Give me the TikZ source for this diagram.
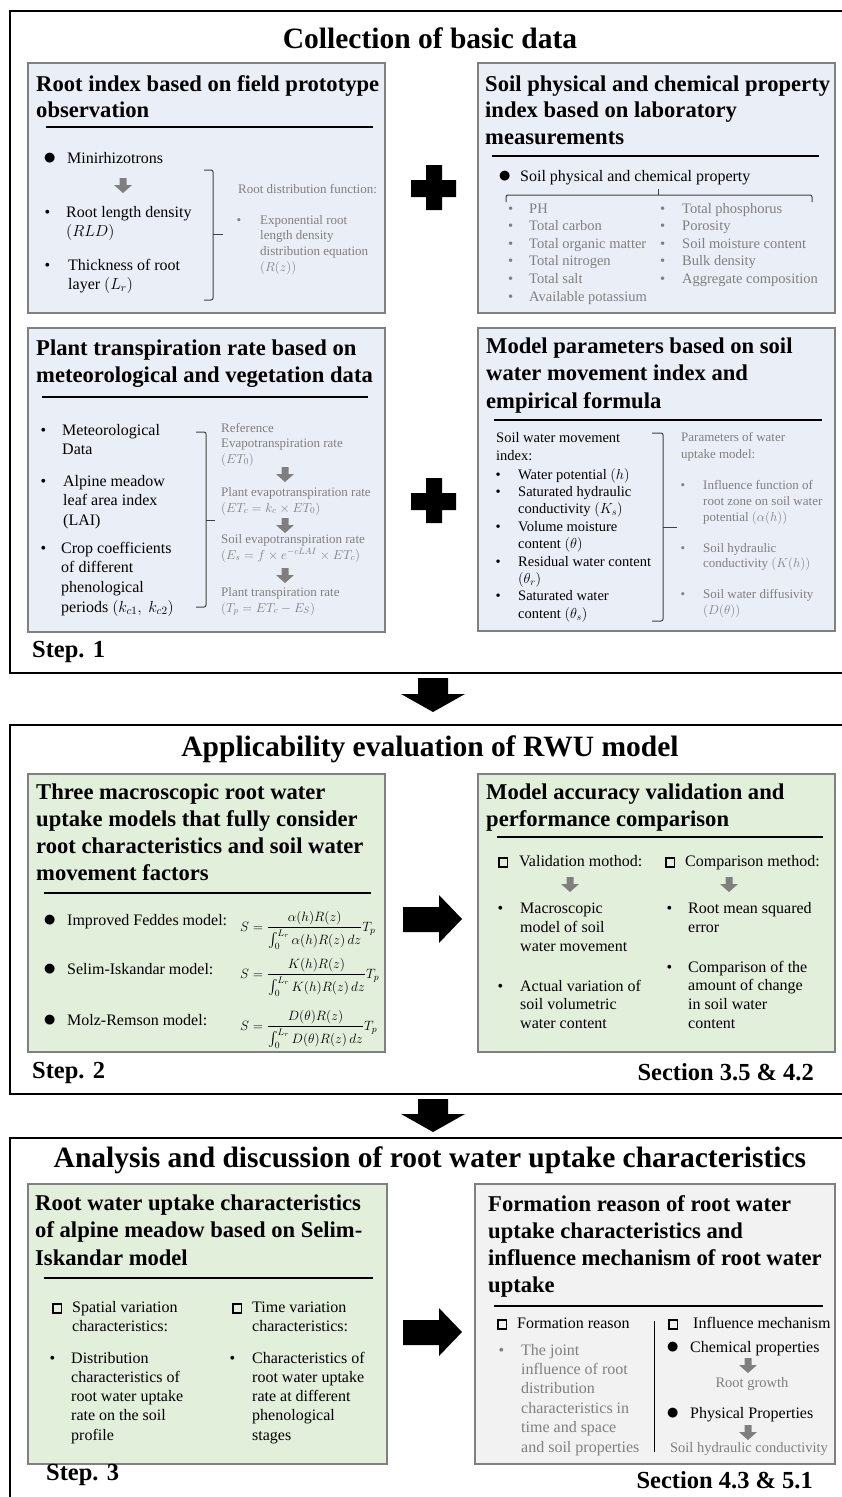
\RequirePackage{fix-cm}
\documentclass[tikz,border=0pt]{standalone}
\usepackage{amsmath}
\usepackage{fontspec}
\setmainfont{Liberation Serif}
\definecolor{bluefill}{HTML}{EAEFF7}
\definecolor{greenfill}{HTML}{E2EFDA}
\definecolor{greyfill}{HTML}{F2F2F2}
\definecolor{boxline}{HTML}{808080}
\definecolor{greytxt}{HTML}{7F7F7F}
\definecolor{garrowc}{HTML}{7F7F7F}
\definecolor{bracec}{HTML}{404040}
\newcommand{\smb}[1]{\llap{\textbullet\hspace{#1pt}}}
\newcommand{\bigb}[1]{\llap{\raisebox{-1pt}{\scalebox{1.6}{$\bullet$}}\hspace{#1pt}}}
\newcommand{\sqb}[1]{\llap{{\setlength{\fboxsep}{0pt}\setlength{\fboxrule}{1.7pt}\fbox{\rule{0pt}{7pt}\rule{7pt}{0pt}}}\hspace{#1pt}}}
\newcommand{\mlines}[6]{\foreach \mytext [count=\ii] in {#6}{\node[#2] (#1\ii) at (#3,{#4+(\ii-1)*(#5)}) {\mytext};}}
\newcommand{\garrow}[3]{\fill[garrowc] ({#2-3.5},#3) rectangle ({#2+3.5},{#3+7}) ({#2-9},{#3+7}) -- ({#2+9},{#3+7}) -- (#2,{#3+15}) -- cycle; \coordinate (#1) at (#2,#3);}
\tikzset{
 secbox/.style={draw=black, line width=2.5pt},
 bbox/.style={draw=boxline, line width=2pt, fill=bluefill, anchor=north west, inner sep=0pt},
 gbox/.style={draw=boxline, line width=2pt, fill=greenfill, anchor=north west, inner sep=0pt},
 ybox/.style={draw=boxline, line width=2pt, fill=greyfill, anchor=north west, inner sep=0pt},
 sectitle/.style={font=\fontsize{29.5}{34}\selectfont\bfseries, anchor=base, inner sep=0pt},
 boxtitle/.style={font=\fontsize{22.6}{27}\selectfont\bfseries, anchor=base west, inner sep=0pt},
 body/.style={font=\fontsize{16}{19}\selectfont, anchor=base west, inner sep=0pt},
 bodys/.style={font=\fontsize{14.5}{17}\selectfont, anchor=base west, inner sep=0pt},
 grey/.style={font=\fontsize{13}{16}\selectfont, text=greytxt, anchor=base west, inner sep=0pt},
 greyl/.style={font=\fontsize{14.5}{17}\selectfont, text=greytxt, anchor=base west, inner sep=0pt},
 greyb/.style={font=\fontsize{16}{19}\selectfont, text=greytxt, anchor=base west, inner sep=0pt},
 fml/.style={font=\fontsize{13.5}{16}\selectfont, anchor=base west, inner sep=0pt},
 steplab/.style={font=\fontsize{24.5}{28}\selectfont\bfseries, inner sep=0pt},
 rulel/.style={line width=1.5pt},
 brk/.style={draw=bracec, line width=1pt, rounded corners=2pt},
}
\begin{document}
\begin{tikzpicture}[x=1pt,y=-1pt]
\useasboundingbox (0,0) rectangle (842,1497);
\fill[white] (0,0) rectangle (842,1497);
\clip (0,0) rectangle (842,1497);

% ================= Section 1
\draw[secbox] (10,11) rectangle (852,673);
\node[sectitle] (t1) at (430,48) {Collection of basic data};

% Box A
\node[bbox, minimum width=357pt, minimum height=250pt] (A) at (27,62) {};
\mlines{at}{boxtitle}{36}{91}{26.5}{Root index based on field prototype, observation}
\draw[rulel] (46,127) -- (373,127);
\node[body] (a1) at (67,163) {\bigb{11}Minirhizotrons};
\garrow{aa1}{123}{178}
\mlines{ab}{body}{66}{217}{19.5}{\smb{16}Root length density, $(RLD)$}
\mlines{ac}{body}{68}{270}{19.5}{\smb{18}Thickness of root, layer $(L_r)$}
\draw[brk] (204,170) -- (213,170) -- (213,300) -- (204,300);
\draw[brk] (213,234) -- (223,234);
\node[grey] (ad) at (238,193) {Root distribution function:};
\mlines{ae}{grey}{260}{224}{15.7}{\smb{19}Exponential root, length density, distribution equation, $(R(z))$}

% plus 1
\fill (426,165) rectangle (442,210) (411,180) rectangle (456,197);

% Box B
\node[bbox, minimum width=357pt, minimum height=250pt] (B) at (477,62) {};
\mlines{bt}{boxtitle}{485}{91}{26.8}{Soil physical and chemical property, index based on laboratory, measurements}
\draw[rulel] (492,156) -- (819,156);
\node[body] (b1) at (520,181) {\bigb{9}Soil physical and chemical property};
\draw[brk] (506,202) -- (506,195) -- (812,195) -- (812,202);
\draw[brk] (658,195) -- (658,189);
\mlines{bl}{greyl}{529}{213}{17.6}{\smb{16}PH, \smb{16}Total carbon, \smb{16}Total organic matter, \smb{16}Total nitrogen, \smb{16}Total salt, \smb{16}Available potassium}
\mlines{br}{greyl}{682}{213}{17.6}{\smb{17}Total phosphorus, \smb{17}Porosity, \smb{17}Soil moisture content, \smb{17}Bulk density, \smb{17}Aggregate composition}

% Box C
\node[bbox, minimum width=357pt, minimum height=304pt] (C) at (27,327) {};
\mlines{ct}{boxtitle}{36}{355}{27}{Plant transpiration rate based on, meteorological and vegetation data}
\draw[rulel] (42,397) -- (368,397);
\mlines{ca}{body}{62}{435}{19.7}{\smb{16}Meteorological, Data}
\mlines{cb}{body}{63}{486}{19.7}{\smb{17}Alpine meadow, leaf area index, (LAI)}
\mlines{cc}{body}{61}{553}{19.7}{\smb{15}Crop coefficients, of different, phenological, {periods $(k_{c1},\ k_{c2})$}}
\draw[brk] (196,432) -- (206,432) -- (206,607) -- (196,607);
\draw[brk] (206,520) -- (215,520);
\mlines{cd}{grey}{221}{432}{15.5}{Reference, Evapotranspiration rate, $(ET_0)$}
\garrow{ca1}{285}{467}
\mlines{ce}{grey}{221}{496}{16}{Plant evapotranspiration rate, $(ET_c=k_c\times ET_0)$}
\garrow{ca2}{285}{518}
\mlines{cf}{grey}{221}{543}{16}{Soil evapotranspiration rate, $(E_s=f\times e^{-cLAI}\times ET_c)$}
\garrow{ca3}{285}{568}
\mlines{cg}{grey}{221}{596}{16}{Plant transpiration rate, $(T_p=ET_c-E_S)$}

% plus 2
\fill (426,478) rectangle (442,523) (411,493) rectangle (456,510);

% Box D
\node[bbox, minimum width=357pt, minimum height=303pt] (D) at (477,327) {};
\mlines{dt}{boxtitle}{486}{353}{27.5}{Model parameters based on soil, water movement index and, empirical formula}
\draw[rulel] (494,420) -- (822,420);
\mlines{da}{bodys}{496}{442}{18}{Soil water movement, index:}
\mlines{db}{bodys}{518}{479}{17.4}{\smb{17.5}Water potential $(h)$, \smb{17.5}Saturated hydraulic, conductivity $(K_s)$, \smb{17.5}Volume moisture, content $(\theta)$, \smb{17.5}Residual water content, $(\theta_r)$, \smb{17.5}Saturated water, content $(\theta_s)$}
\draw[brk] (652,433) -- (663,433) -- (663,621) -- (652,621);
\draw[brk] (663,527) -- (677,527);
\mlines{dc}{grey}{681}{441}{17}{Parameters of water, uptake model:}
\mlines{dd}{grey}{703}{489}{16}{\smb{18}Influence function of, root zone on soil water, potential $(\alpha(h))$}
\mlines{de}{grey}{703}{552}{15.5}{\smb{18}Soil hydraulic, conductivity $(K(h))$}
\mlines{df}{grey}{703}{598}{16}{\smb{18}Soil water diffusivity, $(D(\theta))$}

\node[steplab, anchor=base west] (s1) at (32,657) {Step. 1};

% arrow down 1
\fill (418,678) -- (448,678) -- (448,694) -- (465,694) -- (433,712) -- (401,694) -- (418,694) -- cycle;

% ================= Section 2
\draw[secbox] (10,725) rectangle (852,1094);
\node[sectitle] (t2) at (430,756) {Applicability evaluation of RWU model};

% Box E
\node[gbox, minimum width=357pt, minimum height=278pt] (E) at (27,773) {};
\mlines{et}{boxtitle}{36}{799}{27.3}{Three macroscopic root water, uptake models that fully consider, root characteristics and soil water, movement factors}
\draw[rulel] (44,893) -- (371,893);
\node[body] (e1) at (67,925) {\bigb{11}Improved Feddes model:};
\node[fml] (e2) at (240,931) {$\displaystyle S=\frac{\alpha(h)R(z)}{\int_0^{L_r}\alpha(h)R(z)\,dz}T_p$};
\node[body] (e3) at (67,974) {\bigb{11}Selim-Iskandar model:};
\node[fml] (e4) at (240,978) {$\displaystyle S=\frac{K(h)R(z)}{\int_0^{L_r}K(h)R(z)\,dz}T_p$};
\node[body] (e5) at (67,1025) {\bigb{11}Molz-Remson model:};
\node[fml] (e6) at (240,1030) {$\displaystyle S=\frac{D(\theta)R(z)}{\int_0^{L_r}D(\theta)R(z)\,dz}T_p$};

% right arrow 1
\fill (403,907) -- (439,907) -- (439,895) -- (462,919) -- (439,943) -- (439,932) -- (403,932) -- cycle;

% Box F
\node[gbox, minimum width=357pt, minimum height=278pt] (F) at (477,773) {};
\mlines{ft}{boxtitle}{486}{799}{27.5}{Model accuracy validation and, performance comparison}
\draw[rulel] (497,837) -- (823,837);
\node[body] (f1) at (519,866) {\sqb{11}Validation mothod:};
\node[body] (f2) at (685,866) {\sqb{10}Comparison method:};
\garrow{fa1}{570}{877}
\garrow{fa2}{729}{877}
\mlines{fl}{body}{520}{913}{19.3}{\smb{17}Macroscopic, model of soil, water movement}
\mlines{fm}{body}{520}{991}{18.7}{\smb{17}Actual variation of, soil volumetric, water content}
\mlines{fr}{body}{688}{913}{19.3}{\smb{16}Root mean squared, error}
\mlines{fs}{body}{688}{972}{18.8}{\smb{16}Comparison of the, amount of change, in soil water, content}

\node[steplab, anchor=base west] (s2) at (32,1078) {Step. 2};
\node[steplab, anchor=base east] (s2r) at (814,1080) {Section 3.5 \& 4.2};

% arrow down 2
\fill (418,1099) -- (448,1099) -- (448,1114) -- (465,1114) -- (433,1132) -- (401,1114) -- (418,1114) -- cycle;

% ================= Section 3
\draw[secbox] (10,1138) rectangle (852,1530);
\node[sectitle] (t3) at (430,1167) {Analysis and discussion of root water uptake characteristics};

% Box G
\node[gbox, minimum width=359pt, minimum height=280pt] (G) at (27,1183) {};
\mlines{gt}{boxtitle}{35}{1210}{27.5}{Root water uptake characteristics, of alpine meadow based on Selim-, Iskandar model}
\draw[rulel] (44,1278) -- (373,1278);
\mlines{ga}{body}{72}{1312}{19.5}{\sqb{10}Spatial variation, characteristics:}
\mlines{gb}{body}{252}{1312}{19.5}{\sqb{10}Time variation, characteristics:}
\mlines{gc}{body}{71}{1363}{19.3}{\smb{16}Distribution, characteristics of, root water uptake, rate on the soil, profile}
\mlines{gd}{body}{252}{1363}{19.3}{\smb{17}Characteristics of, root water uptake, rate at different, phenological, stages}

% right arrow 2
\fill (403,1320) -- (439,1320) -- (439,1308) -- (462,1332) -- (439,1356) -- (439,1345) -- (403,1345) -- cycle;

% Box H
\node[ybox, minimum width=360pt, minimum height=280pt] (H) at (474,1183) {};
\mlines{ht}{boxtitle}{488}{1211}{27.3}{Formation reason of root water, uptake characteristics and, influence mechanism of root water, uptake}
\draw[rulel] (494,1306) -- (823,1306);
\node[body] (h1) at (517,1328) {\sqb{10}Formation reason};
\mlines{hg}{greyb}{521}{1355}{19.4}{\smb{17}The joint, influence of root, distribution, characteristics in, time and space, and soil properties}
\draw[line width=1pt] (654,1321) -- (654,1452);
\node[body] (h2) at (693,1328) {\sqb{15}Influence mechanism};
\node[body] (h3) at (690,1352) {\bigb{11}Chemical properties};
\garrow{ha1}{748}{1358}
\node[greyl, anchor=base] (h4) at (752,1387) {Root growth};
\node[body] (h5) at (690,1418) {\bigb{11}Physical Properties};
\garrow{ha2}{748}{1425}
\node[greyl, anchor=base] (h6) at (749,1452) {Soil hydraulic conductivity};

\node[steplab, anchor=base west] (s3) at (46,1480) {Step. 3};
\node[steplab, anchor=base east] (s3r) at (813,1488) {Section 4.3 \& 5.1};
\end{tikzpicture}
\end{document}
